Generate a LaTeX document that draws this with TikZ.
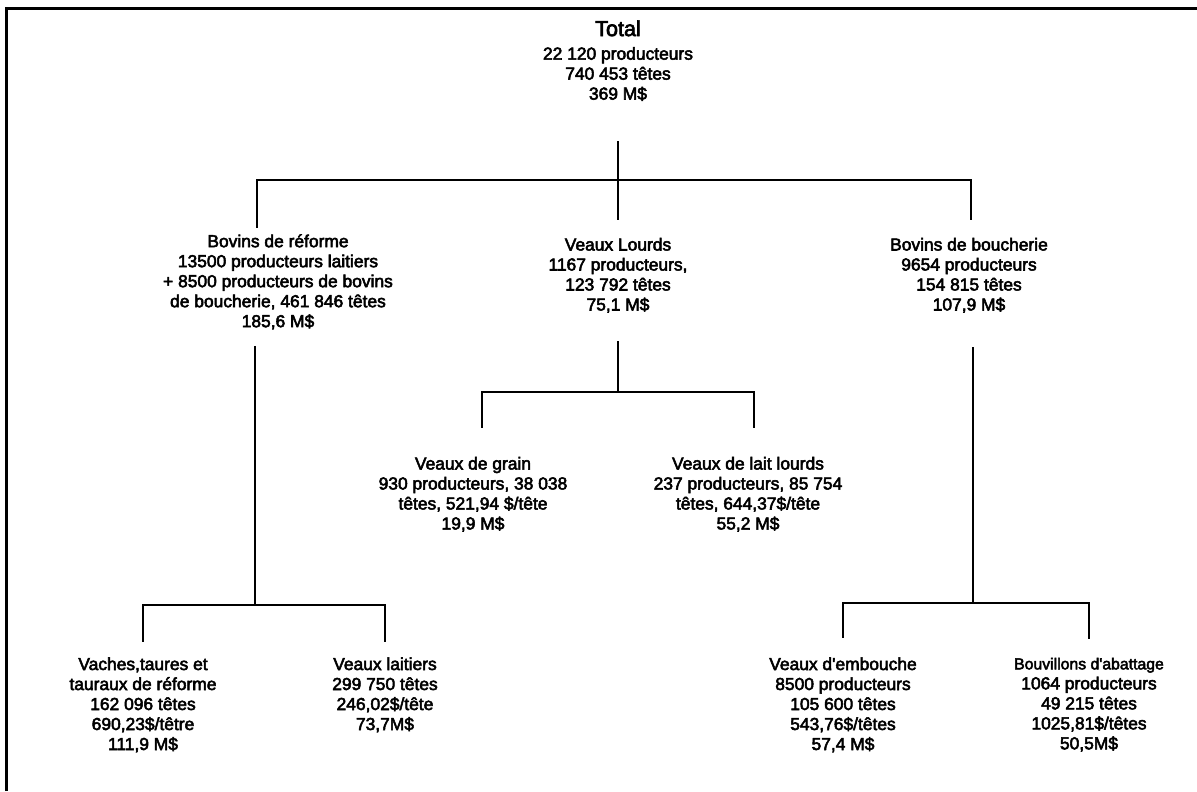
\documentclass[tikz,border=0pt]{standalone}
\usepackage{fontspec}
\setmainfont{Liberation Sans}
\newfontfamily\scanfont{Liberation Sans}[FakeBold=3]
\usetikzlibrary{positioning}
\tikzset{
    infonode/.style = {align=center, anchor=north, inner sep=0pt, font=\scanfont\fontsize{8.7}{10}\selectfont},
    branch/.style = {line width=1pt},
    frame/.style = {line width=1.5pt}
}

\begin{document}
\begin{tikzpicture}[x=0.5pt, y=-0.5pt]
\useasboundingbox (0,0) rectangle (1197,791);
\draw[frame] (6,791) -- (6,9) -- (1197,9);

\node[infonode] (total) at (618,20) {{\fontsize{10.8}{12}\selectfont Total}\\[1.8pt] 22 120 producteurs\\ 740 453 têtes\\ 369 M\$};
\node[infonode] (reforme) at (278,234) {Bovins de réforme\\ 13500 producteurs laitiers\\ + 8500 producteurs de bovins\\ de boucherie, 461 846 têtes\\ 185,6 M\$};
\node[infonode] (lourds) at (618,237.5) {Veaux Lourds\\ 1167 producteurs,\\ 123 792 têtes\\ 75,1 M\$};
\node[infonode] (boucherie) at (969,237.5) {Bovins de boucherie\\ 9654 producteurs\\ 154 815 têtes\\ 107,9 M\$};
\node[infonode] (grain) at (473,456.5) {Veaux de grain\\ 930 producteurs, 38 038\\ têtes, 521,94 \$/tête\\ 19,9 M\$};
\node[infonode] (laitlourds) at (748,456.5) {Veaux de lait lourds\\ 237 producteurs, 85 754\\ têtes, 644,37\$/tête\\ 55,2 M\$};
\node[infonode] (vaches) at (143,657) {Vaches,taures et\\ tauraux de réforme\\ 162 096 têtes\\ 690,23\$/têtre\\ 111,9 M\$};
\node[infonode] (laitiers) at (385,657) {Veaux laitiers\\ 299 750 têtes\\ 246,02\$/tête\\ 73,7M\$};
\node[infonode] (embouche) at (843,657) {Veaux d'embouche\\ 8500 producteurs\\ 105 600 têtes\\ 543,76\$/têtes\\ 57,4 M\$};
\node[infonode] (bouvillons) at (1089,657.5) {{\fontsize{7.9}{9.5}\selectfont Bouvillons d'abattage}\\ 1064 producteurs\\ 49 215 têtes\\ 1025,81\$/têtes\\ 50,5M\$};

\coordinate (f0) at (618,180);
\coordinate (f1) at (255,605);
\coordinate (f2) at (618,392);
\coordinate (f3) at (973,603);

\draw[branch, shorten <=20pt] (total.south) -- (f0);
\draw[branch, shorten >=3pt] (f0) -| ([xshift=-10.5pt]reforme.north);
\draw[branch, shorten >=8.75pt] (f0) -- (lourds.north);
\draw[branch, shorten >=8.75pt] (f0) -| ([xshift=1pt]boucherie.north);

\draw[branch, shorten <=8pt] (reforme.south -| f1) -- (f1);
\draw[branch, shorten >=7.5pt] (f1) -| (vaches.north);
\draw[branch, shorten >=7.5pt] (f1) -| (laitiers.north);

\draw[branch, shorten <=14pt] (lourds.south) -- (f2);
\draw[branch, shorten >=14.25pt] (f2) -| ([xshift=4.5pt]grain.north);
\draw[branch, shorten >=14.25pt] (f2) -| ([xshift=3pt]laitlourds.north);

\draw[branch, shorten <=17pt] (boucherie.south -| f3) -- (f3);
\draw[branch, shorten >=9.5pt] (f3) -| (embouche.north);
\draw[branch, shorten >=9.5pt] (f3) -| (bouvillons.north);
\end{tikzpicture}
\end{document}
